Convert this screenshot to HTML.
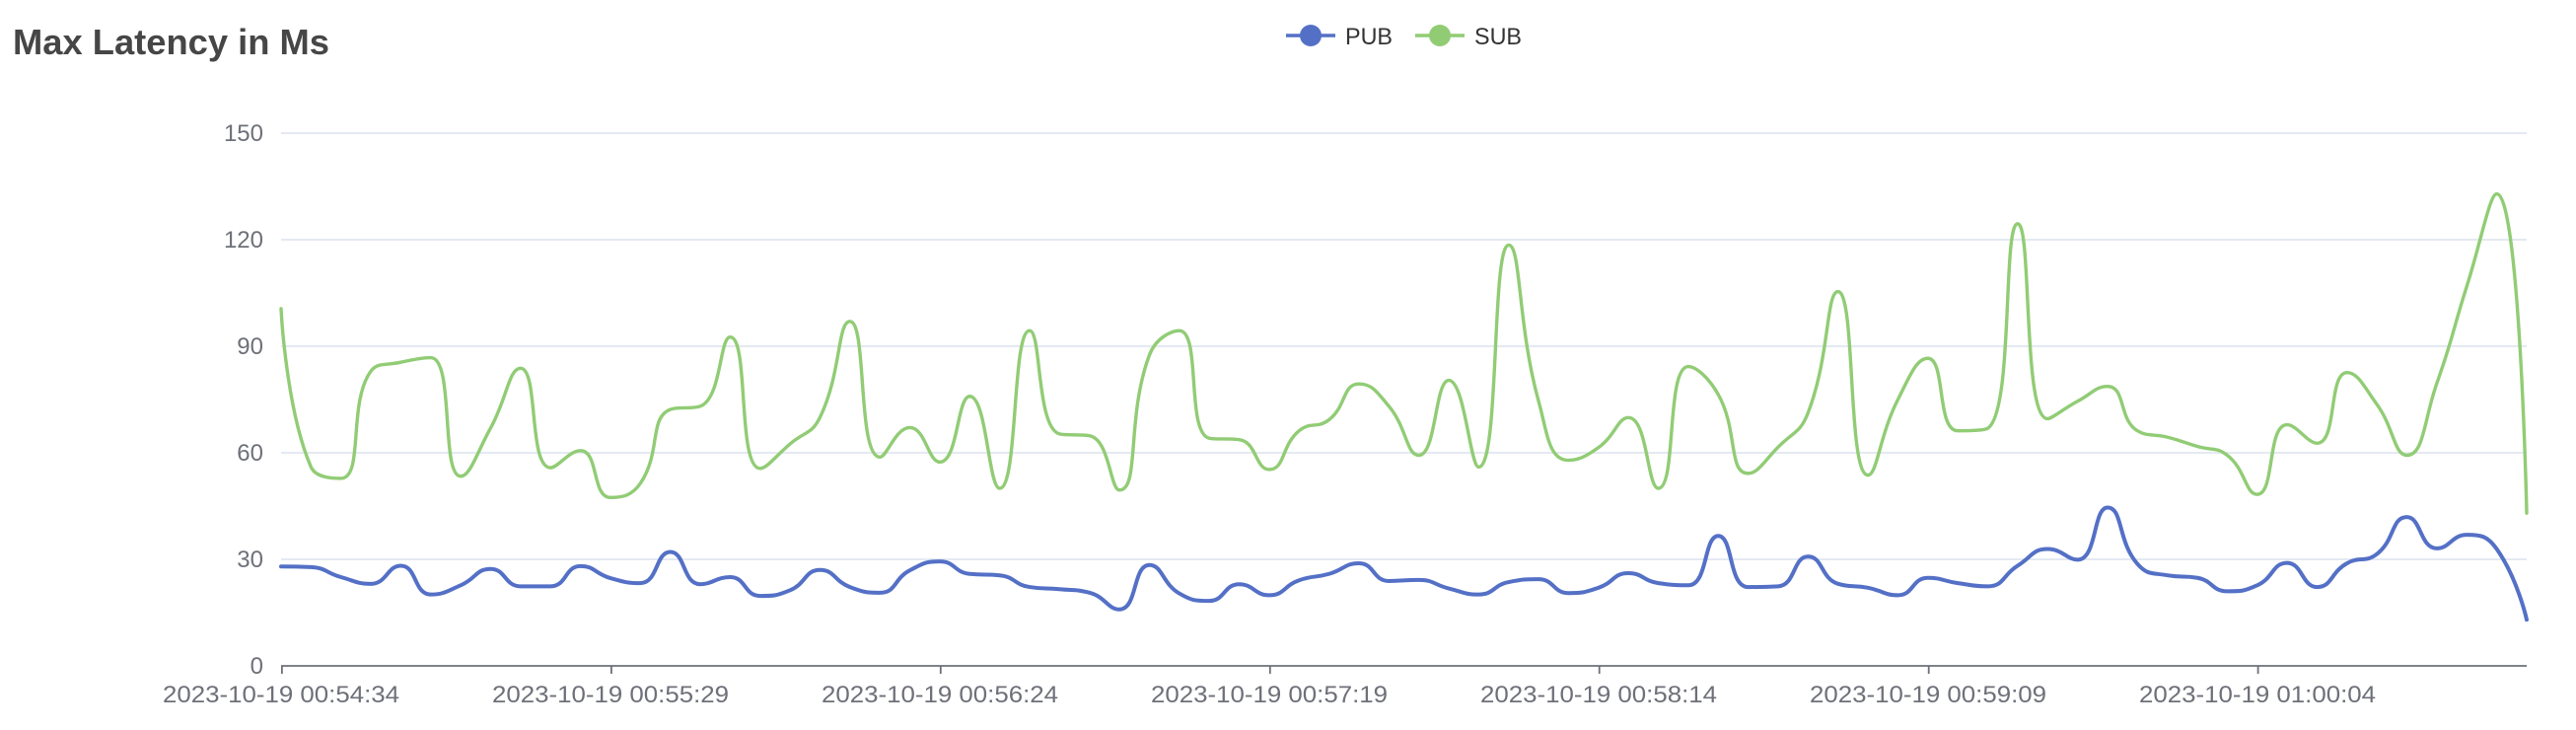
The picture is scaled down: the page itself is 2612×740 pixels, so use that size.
<!DOCTYPE html>
<html>
<head>
<meta charset="utf-8">
<style>
  html, body { margin: 0; padding: 0; background: #ffffff; }
  body { width: 2612px; height: 740px; overflow: hidden; }
  svg { display: block; }
  text { font-family: "Liberation Sans", "Noto Sans CJK SC", sans-serif; }
</style>
</head>
<body>
<svg id="chart" width="2612" height="740" viewBox="0 0 2612 740" xmlns="http://www.w3.org/2000/svg">
  <rect x="0" y="0" width="2612" height="740" fill="#ffffff"/>

  <!-- Title -->
  <text x="13" y="55" font-size="36" font-weight="bold" fill="#464646" textLength="321" lengthAdjust="spacingAndGlyphs">Max Latency in Ms</text>

  <!-- Legend -->
  <g>
    <line x1="1304" y1="36" x2="1354" y2="36" stroke="#5470c6" stroke-width="3.6"/>
    <circle cx="1329" cy="36" r="11" fill="#5470c6"/>
    <text x="1364" y="45" font-size="24" fill="#333333" textLength="48" lengthAdjust="spacingAndGlyphs">PUB</text>
    <line x1="1435" y1="36" x2="1485" y2="36" stroke="#91cc75" stroke-width="3.6"/>
    <circle cx="1460" cy="36" r="11" fill="#91cc75"/>
    <text x="1495" y="45" font-size="24" fill="#333333" textLength="48" lengthAdjust="spacingAndGlyphs">SUB</text>
  </g>

  <!-- Grid lines -->
  <g stroke="#E0E6F1" stroke-width="1.7">
    <line x1="285" y1="135" x2="2562" y2="135"/>
    <line x1="285" y1="243" x2="2562" y2="243"/>
    <line x1="285" y1="351" x2="2562" y2="351"/>
    <line x1="285" y1="459" x2="2562" y2="459"/>
    <line x1="285" y1="567" x2="2562" y2="567"/>
  </g>

  <!-- Y axis labels -->
  <g font-size="24" fill="#6E7079" text-anchor="end">
    <text x="267" y="143">150</text>
    <text x="267" y="251">120</text>
    <text x="267" y="359">90</text>
    <text x="267" y="467">60</text>
    <text x="267" y="575">30</text>
    <text x="267" y="683">0</text>
  </g>

  <!-- Series fallback (static polylines in data units) -->
  <g id="fallback">
    <polyline id="pubFallback" fill="none" stroke="#5470c6" stroke-width="4" vector-effect="non-scaling-stroke" stroke-linejoin="round"
      transform="translate(285,675) scale(30.36,-3.6)"
      points=""/>
    <polyline id="subFallback" fill="none" stroke="#91cc75" stroke-width="3.4" vector-effect="non-scaling-stroke" stroke-linejoin="round"
      transform="translate(285,675) scale(30.36,-3.6)"
      points=""/>
  </g>

  <!-- Smooth series (filled by script) -->
  <path id="subPath" fill="none" stroke="#91cc75" stroke-width="3.4" stroke-linejoin="round" stroke-linecap="round" d=""/>
  <path id="pubPath" fill="none" stroke="#5470c6" stroke-width="4" stroke-linejoin="round" stroke-linecap="round" d=""/>

  <!-- X axis -->
  <line x1="285" y1="675" x2="2562" y2="675" stroke="#6E7079" stroke-width="1.8"/>
  <g stroke="#6E7079" stroke-width="1.8">
    <line x1="285.9" y1="675" x2="285.9" y2="683"/>
    <line x1="619.9" y1="675" x2="619.9" y2="683"/>
    <line x1="953.8" y1="675" x2="953.8" y2="683"/>
    <line x1="1287.8" y1="675" x2="1287.8" y2="683"/>
    <line x1="1621.7" y1="675" x2="1621.7" y2="683"/>
    <line x1="1955.7" y1="675" x2="1955.7" y2="683"/>
    <line x1="2289.6" y1="675" x2="2289.6" y2="683"/>
  </g>
  <g font-size="24" fill="#6E7079" text-anchor="middle">
    <text x="285" y="712" textLength="240" lengthAdjust="spacingAndGlyphs">2023-10-19 00:54:34</text>
    <text x="619" y="712" textLength="240" lengthAdjust="spacingAndGlyphs">2023-10-19 00:55:29</text>
    <text x="953" y="712" textLength="240" lengthAdjust="spacingAndGlyphs">2023-10-19 00:56:24</text>
    <text x="1287" y="712" textLength="240" lengthAdjust="spacingAndGlyphs">2023-10-19 00:57:19</text>
    <text x="1621" y="712" textLength="240" lengthAdjust="spacingAndGlyphs">2023-10-19 00:58:14</text>
    <text x="1955" y="712" textLength="240" lengthAdjust="spacingAndGlyphs">2023-10-19 00:59:09</text>
    <text x="2289" y="712" textLength="240" lengthAdjust="spacingAndGlyphs">2023-10-19 01:00:04</text>
  </g>
</svg>

<script>
(function () {
  var pub = [28,27.8,25,23.1,28.2,20.1,22.7,27.3,22.4,22.4,28.1,24.7,23.3,32.1,23,25,19.7,21.3,27,22.2,
             20.6,26.9,29.4,25.9,25.5,22.2,21.6,20.6,15.9,28.4,20.4,18.3,23,19.9,24.1,25.9,28.9,23.9,24.2,21.8,
             20.1,23.6,24.4,20.5,22,26.1,23.3,22.7,36.6,22.2,22.4,30.8,23.1,22,19.9,24.8,23.3,22.4,28.2,32.9,
             29.9,44.6,28.7,25.5,24.8,21,22.7,29,22.2,28.9,31.5,41.9,33.1,36.9,32.9,13];
  var sub = [100.6,56,52.8,83,85.5,86.8,53.4,67,83.8,55.8,60.6,47.4,51.4,72.2,73.1,92.6,55.6,62.5,70,97,
             58.8,67.1,57.4,75.9,50,94.4,65.3,64.8,49.5,87.5,94.4,64.1,63.7,55.3,66.2,69.3,79.4,73.1,59.3,80.4,
             56,118.5,74.5,57.9,61.5,69.9,50,84.3,76.4,54.2,61.6,71.3,105.4,53.7,75,86.6,66.2,66.9,124.5,69.6,
             74.5,78.7,66.2,64.4,61.8,59.3,48.3,67.9,62.7,82.6,73.6,59.3,79.6,106.9,132.9,43];

  var X0 = 285, X1 = 2562, Y0 = 675, PX_PER = 3.6;
  var n = pub.length;
  var step = (X1 - X0) / (n - 1);

  function toPts(arr) {
    var out = [];
    for (var i = 0; i < arr.length; i++) out.push([X0 + i * step, Y0 - arr[i] * PX_PER]);
    return out;
  }
  function fallbackPts(arr) {
    var s = [];
    for (var i = 0; i < arr.length; i++) s.push(i + "," + arr[i]);
    return s.join(" ");
  }

  function smoothPath(pts, smooth) {
    var d = "";
    var prevX, prevY, cpx0, cpy0;
    var len = pts.length;
    for (var k = 0; k < len; k++) {
      var x = pts[k][0], y = pts[k][1];
      if (k === 0) {
        d += "M" + x.toFixed(2) + "," + y.toFixed(2);
        cpx0 = x; cpy0 = y;
      } else {
        var nextCpx0, nextCpy0, cpx1, cpy1;
        if (k >= len - 1) {
          nextCpx0 = x; nextCpy0 = y; cpx1 = x; cpy1 = y;
        } else {
          var nx = pts[k + 1][0], ny = pts[k + 1][1];
          var vx = nx - prevX, vy = ny - prevY;
          var dx0 = x - prevX, dx1 = nx - x, dy0 = y - prevY, dy1 = ny - y;
          var lenPrev = Math.sqrt(dx0 * dx0 + dy0 * dy0);
          var lenNext = Math.sqrt(dx1 * dx1 + dy1 * dy1);
          var ratio = lenNext / (lenNext + lenPrev);
          nextCpx0 = x + vx * smooth * ratio;
          nextCpy0 = y + vy * smooth * ratio;
          nextCpx0 = Math.min(nextCpx0, Math.max(nx, x));
          nextCpx0 = Math.max(nextCpx0, Math.min(nx, x));
          nextCpy0 = Math.min(nextCpy0, Math.max(ny, y));
          nextCpy0 = Math.max(nextCpy0, Math.min(ny, y));
          vx = nextCpx0 - x; vy = nextCpy0 - y;
          cpx1 = x - vx * lenPrev / lenNext;
          cpy1 = y - vy * lenPrev / lenNext;
          cpx1 = Math.min(cpx1, Math.max(prevX, x));
          cpx1 = Math.max(cpx1, Math.min(prevX, x));
          cpy1 = Math.min(cpy1, Math.max(prevY, y));
          cpy1 = Math.max(cpy1, Math.min(prevY, y));
          vx = x - cpx1; vy = y - cpy1;
          nextCpx0 = x + vx * lenNext / lenPrev;
          nextCpy0 = y + vy * lenNext / lenPrev;
        }
        d += "C" + cpx0.toFixed(2) + "," + cpy0.toFixed(2) + " " +
             cpx1.toFixed(2) + "," + cpy1.toFixed(2) + " " +
             x.toFixed(2) + "," + y.toFixed(2);
        cpx0 = nextCpx0; cpy0 = nextCpy0;
      }
      prevX = x; prevY = y;
    }
    return d;
  }

  try {
    document.getElementById("pubFallback").setAttribute("points", fallbackPts(pub));
    document.getElementById("subFallback").setAttribute("points", fallbackPts(sub));
    document.getElementById("pubPath").setAttribute("d", smoothPath(toPts(pub), 0.5));
    document.getElementById("subPath").setAttribute("d", smoothPath(toPts(sub), 0.5));
    document.getElementById("fallback").setAttribute("display", "none");
  } catch (e) {}
})();
</script>
</body>
</html>
